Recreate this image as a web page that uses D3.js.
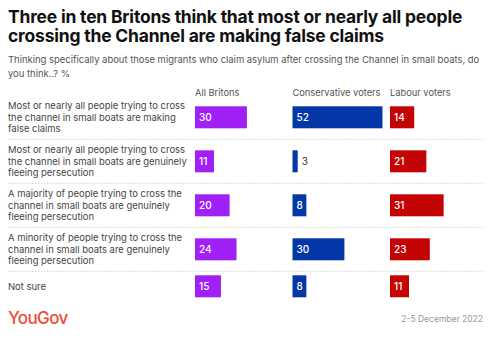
<!DOCTYPE html>
<html>
<head>
<meta charset="utf-8">
<script src="https://cdn.jsdelivr.net/npm/d3@7"></script>
<style>
  body { margin: 0; background: #fff; }
  svg text { font-family: Inter, "Noto Sans", sans-serif; }
</style>
</head>
<body>
<div id="chart"></div>
<script>
const width = 493
const height = 340

const titleLines = [
  "Three in ten Britons think that most or nearly all people",
  "crossing the Channel are making false claims"
]
const subtitleLines = [
  "Thinking specifically about those migrants who claim asylum after crossing the Channel in small boats, do",
  "you think..? %"
]
const groups = ["All Britons", "Conservative voters", "Labour voters"]
const groupColors = ["#a020f6", "#0336a6", "#c40404"]

const answers = [
  ["Most or nearly all people trying to cross", "the channel in small boats are making", "false claims"],
  ["Most or nearly all people trying to cross", "the channel in small boats are genuinely", "fleeing persecution"],
  ["A majority of people trying to cross the", "channel in small boats are genuinely", "fleeing persecution"],
  ["A minority of people trying to cross the", "channel in small boats are genuinely", "fleeing persecution"],
  ["Not sure"]
]
const allBritons = [30, 11, 20, 24, 15]
const conservative = [52, 3, 8, 30, 8]
const labour = [14, 21, 31, 23, 11]

const source = "YouGov"
const fieldDates = "2-5 December 2022"

const seriesValues = [allBritons, conservative, labour]

// rows are as tall as their label
const lineH = 11.5
const rowHeights = answers.map(a => a.length === 1 ? 30 : 44)
const rowTops = []
let acc = 95.3
rowHeights.forEach(h => { rowTops.push(acc); acc += h })
const rowIds = answers.map((a, i) => i)

const yTop = d3.scaleOrdinal().domain(rowIds).range(rowTops)
const yCenter = i => yTop(i) + rowHeights[i] / 2
const colX = d3.scalePoint().domain(groups).range([195, 390])
const x = d3.scaleLinear().domain([0, 100]).range([0, 173])
const barH = 22

const svg = d3.select("#chart").append("svg")
  .attr("width", width)
  .attr("height", height)

svg.append("rect").attr("width", width).attr("height", height).attr("fill", "#fff")

// fit a block of text lines to a target width for its longest line
const fitLines = (sel, target) => {
  let maxW = 0
  sel.each(function() { maxW = Math.max(maxW, this.getComputedTextLength()) })
  const fs = parseFloat(sel.attr("font-size"))
  sel.attr("font-size", (fs * target / maxW).toFixed(2))
}

const title = svg.append("g").selectAll("text")
  .data(titleLines)
  .join("text")
  .attr("x", 8)
  .attr("y", (d, i) => 23 + i * 19)
  .attr("font-size", 17)
  .attr("font-weight", 700)
  .attr("fill", "#111")
  .attr("letter-spacing", -0.2)
  .text(d => d)
fitLines(title, 454)

const sub = svg.append("g").selectAll("text")
  .data(subtitleLines)
  .join("text")
  .attr("x", 8)
  .attr("y", (d, i) => 63 + i * 14)
  .attr("font-size", 10.5)
  .attr("fill", "#555")
  .text(d => d)
fitLines(sub, 472)

// column headers
const heads = svg.append("g").selectAll("text")
  .data(groups)
  .join("text")
  .attr("x", d => colX(d))
  .attr("y", 96)
  .attr("font-size", 10)
  .attr("fill", "#555")
  .text(d => d)
fitLines(heads, 88)

// dotted dividers between rows
svg.append("g").selectAll("line")
  .data(rowIds.slice(1))
  .join("line")
  .attr("x1", 8)
  .attr("x2", 483)
  .attr("y1", d => yTop(d))
  .attr("y2", d => yTop(d))
  .attr("stroke", "#d4d4d4")
  .attr("stroke-width", 1)
  .attr("stroke-dasharray", "1.5,1.5")

// row labels
const labelText = svg.append("g").selectAll("text")
  .data(answers.flatMap((d, i) => d.map((t, j) => ({t, j, i, n: d.length}))))
  .join("text")
  .attr("x", 8)
  .attr("y", d => yCenter(d.i) + (d.j - (d.n - 1) / 2) * lineH + 3.6)
  .attr("font-size", 10.3)
  .attr("fill", "#444")
  .text(d => d.t)
fitLines(labelText, 179)

// bars
groups.forEach((g, gi) => {
  const cell = svg.append("g").selectAll("g")
    .data(seriesValues[gi])
    .join("g")
    .attr("transform", (d, i) => `translate(${colX(g)},${yCenter(i) - barH / 2})`)

  cell.append("rect")
    .attr("width", d => x(d))
    .attr("height", barH)
    .attr("fill", groupColors[gi])

  cell.append("text")
    .attr("x", d => x(d) < 12 ? x(d) + 4 : 4)
    .attr("y", barH / 2 + 3.6)
    .attr("font-size", 10)
    .attr("font-weight", 500)
    .attr("fill", d => x(d) < 12 ? "#555" : "#fff")
    .text(d => d)
})

svg.append("text")
  .attr("x", 8)
  .attr("y", 324)
  .attr("font-size", 17)
  .attr("font-weight", 500)
  .attr("letter-spacing", -0.6)
  .attr("fill", "#f04a35")
  .text(source)

svg.append("text")
  .attr("x", 483)
  .attr("y", 322)
  .attr("text-anchor", "end")
  .attr("font-size", 8.5)
  .attr("fill", "#999")
  .text(fieldDates)
</script>
</body>
</html>
